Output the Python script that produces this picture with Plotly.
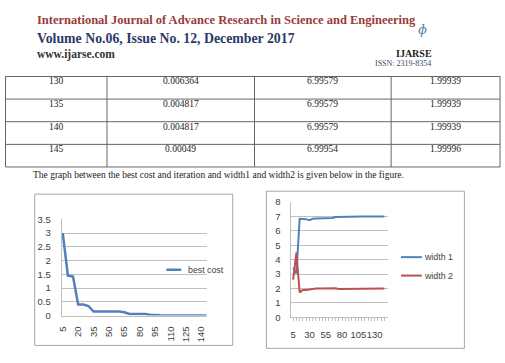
import plotly.graph_objects as go

W, H = 505, 363

# ---- data ----
iterations = list(range(5, 150, 5))
best_cost = [3.0, 1.45, 1.42, 0.40, 0.40, 0.35, 0.15, 0.15, 0.15, 0.15, 0.15, 0.15,
             0.12, 0.06, 0.06, 0.06, 0.06, 0.03, 0.01, 0.01, 0.008, 0.008, 0.007,
             0.007, 0.0064, 0.006364, 0.004817, 0.004817, 0.00049]
width1 = [3.45, 3.05, 6.85, 6.85, 6.82, 6.75, 6.85, 6.87, 6.87, 6.87, 6.87, 6.87,
          6.9, 6.97, 6.98, 6.98, 7.0, 6.98, 7.0, 7.0, 7.0, 7.0, 7.0, 7.0, 7.0,
          6.99579, 6.99579, 6.99579, 6.99954]
width2 = [2.62, 4.5, 1.73, 1.9, 1.9, 1.93, 2.0, 2.0, 2.0, 2.0, 2.0, 2.0,
          2.0, 2.02, 1.96, 1.96, 1.95, 1.98, 2.0, 2.0, 2.0, 2.0, 2.0, 2.0, 2.0,
          1.99939, 1.99939, 1.99939, 1.99996]

table_rows = [
    ["130", "0.006364", "6.99579", "1.99939"],
    ["135", "0.004817", "6.99579", "1.99939"],
    ["140", "0.004817", "6.99579", "1.99939"],
    ["145", "0.00049", "6.99954", "1.99996"],
]

cost_ticks = [5, 20, 35, 50, 65, 80, 95, 110, 125, 140]
width_ticks = [5, 30, 55, 80, 105, 130]

BLUE = "#4F81BD"
RED = "#C0504D"
GRID = "#bfbfbf"
TICKFONT = dict(family="Liberation Sans", size=9.5, color="#404040")


def px(x):
    return x / W


def py(y):
    return 1 - y / H


fig = go.Figure()
fig.add_trace(go.Scatter(x=iterations, y=best_cost, mode="lines",
                         line=dict(color=BLUE, width=2.5), xaxis="x", yaxis="y",
                         showlegend=False))
fig.add_trace(go.Scatter(x=iterations, y=width1, mode="lines",
                         line=dict(color=BLUE, width=2), xaxis="x2", yaxis="y2",
                         showlegend=False))
fig.add_trace(go.Scatter(x=iterations, y=width2, mode="lines",
                         line=dict(color=RED, width=2), xaxis="x2", yaxis="y2",
                         showlegend=False))

shapes = []
annotations = []

# ---- header ----
annotations += [
    dict(x=px(30), y=py(14), text="<b>International Journal of Advance Research in Science and Engineering</b>",
         font=dict(family="Liberation Serif", size=12.5, color="#9b3b3b")),
    dict(x=px(30), y=py(34), text="<b>Volume No.06, Issue No. 12, December 2017</b>",
         font=dict(family="Liberation Serif", size=13.8, color="#2b3a67")),
    dict(x=px(30), y=py(50), text="<b>www.ijarse.com</b>",
         font=dict(family="Liberation Serif", size=11.5, color="#333333")),
]
for a in annotations:
    a.update(xref="paper", yref="paper", xanchor="left", yanchor="middle", showarrow=False)
annotations += [
    dict(x=px(433), y=py(41), text="<b>IJARSE</b>", xref="paper", yref="paper",
         showarrow=False, font=dict(family="Liberation Serif", size=10, color="#222222")),
    dict(x=px(432), y=py(53), text="ISSN: 2319-8354", xref="paper", yref="paper",
         showarrow=False, font=dict(family="Liberation Serif", size=8, color="#3a4a70")),
    dict(x=px(428), y=py(14), text="<i>ɸ</i>", xref="paper", yref="paper",
         showarrow=False, font=dict(family="DejaVu Serif", size=13, color="#5a7fb0")),
]

# ---- table ----
TLINE = "#666666"
row_y = [72.7, 96, 119.3, 142.7, 166]
col_x = [0.5, 103, 252, 390, 500]
for yy in row_y:
    shapes.append(dict(type="line", xref="paper", yref="paper", x0=px(col_x[0]), x1=px(col_x[-1]),
                       y0=py(yy), y1=py(yy), line=dict(color=TLINE, width=1)))
for xx in col_x:
    shapes.append(dict(type="line", xref="paper", yref="paper", x0=px(xx), x1=px(xx),
                       y0=py(row_y[0]), y1=py(row_y[-1]), line=dict(color=TLINE, width=1)))
for r, row in enumerate(table_rows):
    for c, cell in enumerate(row):
        cx = (col_x[c] + col_x[c + 1]) / 2
        annotations.append(dict(x=px(cx), y=py(row_y[r] + 5), text=cell, xref="paper", yref="paper",
                                showarrow=False, xanchor="center", yanchor="middle",
                                font=dict(family="Liberation Serif", size=9.5, color="#222222")))

annotations.append(dict(x=px(26), y=py(174),
                        text="The graph between the best cost and iteration and width1 and width2 is given below in the figure.",
                        xref="paper", yref="paper", showarrow=False, xanchor="left", yanchor="middle",
                        font=dict(family="Liberation Serif", size=9.5, color="#222222")))

# ---- chart boxes ----
shapes.append(dict(type="rect", xref="paper", yref="paper", x0=px(30), x1=px(230), y0=py(194), y1=py(350),
                   line=dict(color="#a6a6a6", width=1)))
shapes.append(dict(type="rect", xref="paper", yref="paper", x0=px(264), x1=px(464), y0=py(191), y1=py(353),
                   line=dict(color="#a6a6a6", width=1)))

# ---- legends ----
shapes.append(dict(type="line", xref="paper", yref="paper", x0=px(163), x1=px(178), y0=py(272), y1=py(272),
                   line=dict(color=BLUE, width=2.5)))
annotations.append(dict(x=px(183), y=py(272), text="best cost", xref="paper", yref="paper", showarrow=False,
                        xanchor="left", yanchor="middle", font=dict(family="Liberation Sans", size=8.8, color="#404040")))
for yy, col, lab in [(259, BLUE, "width 1"), (278, RED, "width 2")]:
    shapes.append(dict(type="line", xref="paper", yref="paper", x0=px(400), x1=px(421), y0=py(yy), y1=py(yy),
                       line=dict(color=col, width=2)))
    annotations.append(dict(x=px(421), y=py(yy), text=lab, xref="paper", yref="paper", showarrow=False,
                            xanchor="left", yanchor="middle",
                            font=dict(family="Liberation Sans", size=8.8, color="#404040")))

fig.update_layout(
    width=W, height=H, margin=dict(l=0, r=0, t=0, b=0),
    paper_bgcolor="white", plot_bgcolor="white",
    shapes=shapes, annotations=annotations, showlegend=False,
    xaxis=dict(domain=[px(57.3), px(204)], range=[4, 145.5], tickmode="array", tickvals=cost_ticks,
               ticktext=[str(v) for v in cost_ticks], tickangle=-90, tickfont=TICKFONT,
               showgrid=False, zeroline=False, showline=True, linecolor=GRID, linewidth=1,
               ticks="", ticklabelstandoff=6, anchor="y"),
    yaxis=dict(domain=[py(319.3), py(220)], range=[0, 3.5], dtick=0.5, tickfont=TICKFONT,
               showgrid=True, gridcolor=GRID, gridwidth=1, zeroline=False, showline=True,
               linecolor=GRID, ticks="", ticklabelstandoff=8, anchor="x"),
    xaxis2=dict(domain=[px(289.3), px(386.7)], range=[2.4, 150.3], tickmode="array", tickvals=width_ticks,
                ticktext=[str(v) for v in width_ticks], tickangle=0, tickfont=TICKFONT,
                showgrid=False, zeroline=False, showline=True, linecolor=GRID, linewidth=1,
                ticks="outside", ticklen=3, tickcolor=GRID,
                minor=dict(tickmode="array", tickvals=iterations, ticks="outside", ticklen=3, tickcolor=GRID,
                           showgrid=False),
                ticklabelstandoff=5, anchor="y2"),
    yaxis2=dict(domain=[py(321), py(202.3)], range=[0, 8], dtick=1, tickfont=TICKFONT,
                showgrid=True, gridcolor=GRID, gridwidth=1, zeroline=False, showline=True,
                linecolor=GRID, ticks="", ticklabelstandoff=8, anchor="x2"),
)

fig.write_html("out.html")
